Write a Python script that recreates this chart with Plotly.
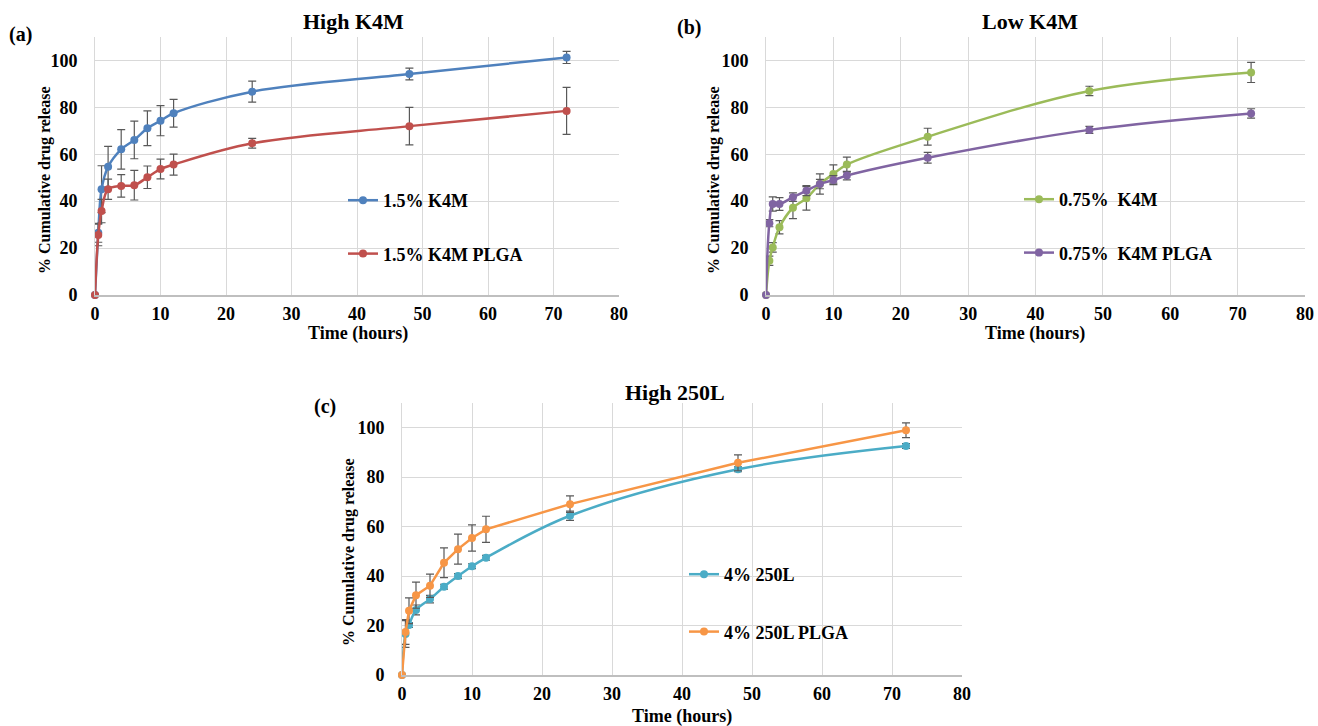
import plotly.graph_objects as go

time_h = [0, 0.5, 1, 2, 4, 6, 8, 10, 12, 24, 48, 72]

# Panel (a) High K4M
k4m_15 = [0, 26.5, 45.1, 54.7, 62.1, 66.1, 71.1, 74.3, 77.5, 86.7, 94.2, 101.3]
k4m_15_err = [0, 4, 10, 8.7, 8.4, 8, 7.4, 6.4, 5.9, 4.5, 2.5, 2.6]
k4m_15_plga = [0, 25.6, 35.8, 45.1, 46.5, 46.8, 50.2, 53.7, 55.6, 64.7, 72.0, 78.5]
k4m_15_plga_err = [0, 4.6, 5, 4.3, 4.8, 6.3, 4.8, 4.2, 4.5, 2.1, 8, 10]

# Panel (b) Low K4M
k4m_075 = [0, 14.6, 20.3, 28.9, 37.2, 41.2, 47.3, 51.6, 55.6, 67.5, 87.0, 94.9]
k4m_075_err = [0, 2, 2, 2.8, 4.6, 5, 4.3, 3.9, 3.2, 3.6, 2, 4.3]
k4m_075_plga = [0, 30.6, 38.8, 38.8, 41.7, 44.5, 47.3, 49.0, 50.9, 58.5, 70.4, 77.4]
k4m_075_plga_err = [0, 1.5, 3, 2.7, 1.8, 2.1, 2, 1.9, 1.8, 2.3, 1.5, 2]

# Panel (c) High 250L
l250_4 = [0, 16.6, 20.2, 26.3, 30.7, 35.7, 40.0, 44.0, 47.4, 64.4, 83.2, 92.6]
l250_4_err = [0, 5.4, 1, 2, 1.5, 1, 1, 1, 1, 1.9, 1, 1]
l250_4_plga = [0, 17.4, 26.0, 32.3, 36.1, 45.4, 50.9, 55.4, 58.9, 69.1, 85.8, 99.0]
l250_4_plga_err = [0, 5, 5.2, 5.3, 4.7, 6, 6.1, 5.3, 5.3, 3.3, 3.2, 3]

W, H = 1318, 726
FONT = "Liberation Serif"
ERR_COLOR = "#595959"
X_TITLE = "<b>Time (hours)</b>"
Y_TITLE = "<b>% Cumulative drug release</b>"


def fx(px):
    return px / W


def fy(py):
    return 1 - py / H


fig = go.Figure()


def add_series(y, err, name, color, xa, ya, legend, shape="spline"):
    fig.add_trace(go.Scatter(
        x=time_h, y=y, name=name, mode="lines+markers",
        line=dict(color=color, width=2.5, shape=shape, smoothing=1),
        marker=dict(color=color, size=8),
        error_y=dict(type="data", array=err, visible=True, color=ERR_COLOR,
                     thickness=1.2, width=4),
        cliponaxis=False,
        xaxis=xa, yaxis=ya, legend=legend, legendgroup=name,
    ))


add_series(k4m_15, k4m_15_err, "1.5% K4M", "#4F81BD", "x", "y", "legend")
add_series(k4m_15_plga, k4m_15_plga_err, "1.5% K4M PLGA", "#C0504D", "x", "y", "legend")
add_series(k4m_075, k4m_075_err, "0.75%  K4M", "#9BBB59", "x2", "y2", "legend2")
add_series(k4m_075_plga, k4m_075_plga_err, "0.75%  K4M PLGA", "#8064A2", "x2", "y2", "legend2")
add_series(l250_4, l250_4_err, "4% 250L", "#4BACC6", "x3", "y3", "legend3")
add_series(l250_4_plga, l250_4_plga_err, "4% 250L PLGA", "#F79646", "x3", "y3", "legend3", shape="linear")

tickfont = dict(family=FONT, size=18, color="#000000", weight="bold")


def xaxis(domain, anchor):
    return dict(domain=domain, anchor=anchor, range=[0, 80], dtick=10, tick0=0,
                showgrid=True, gridcolor="#D9D9D9", gridwidth=1,
                showline=True, linecolor="#BFBFBF", linewidth=1.5,
                zeroline=False, ticks="", tickfont=tickfont,
                ticklabelstandoff=2, automargin=False)


def yaxis(domain, anchor):
    return dict(domain=domain, anchor=anchor, range=[0, 110], dtick=20, tick0=0,
                showgrid=True, gridcolor="#D9D9D9", gridwidth=1,
                showline=True, linecolor="#D9D9D9", linewidth=1,
                zeroline=False, ticks="", tickfont=tickfont,
                ticklabelstandoff=13, automargin=False)


ya_dom = [fy(295), fy(37)]
yc_dom = [fy(675), fy(403)]


def legend(x, y, gap):
    return dict(x=x, y=y, xanchor="left", yanchor="top", bgcolor="rgba(0,0,0,0)",
                font=dict(family=FONT, size=18, color="#000000", weight="bold"),
                traceorder="grouped", tracegroupgap=gap, itemwidth=30)


def label(text, x, y, size, angle=0):
    return dict(text=text, x=fx(x), y=fy(y), xref="paper", yref="paper",
                xanchor="center", yanchor="middle", showarrow=False, textangle=angle,
                font=dict(family=FONT, size=size, color="#000000"))


fig.update_layout(
    width=W, height=H,
    margin=dict(l=0, r=0, t=0, b=0, autoexpand=False),
    paper_bgcolor="white", plot_bgcolor="white",
    showlegend=True,
    xaxis=xaxis([fx(95), fx(619)], "y"),
    yaxis=yaxis(ya_dom, "x"),
    xaxis2=xaxis([fx(766), fx(1305)], "y2"),
    yaxis2=yaxis(ya_dom, "x2"),
    xaxis3=xaxis([fx(402), fx(962)], "y3"),
    yaxis3=yaxis(yc_dom, "x3"),
    legend=legend(fx(343), fy(182), 27),
    legend2=legend(fx(1019), fy(181), 27),
    legend3=legend(fx(684), fy(556), 31),
    annotations=[
        label("<b>High K4M</b>", 353, 22, 22),
        label("<b>Low K4M</b>", 1030, 22, 22),
        label("<b>High 250L</b>", 675, 392, 22),
        label("<b>(a)</b>", 20, 35, 20),
        label("<b>(b)</b>", 689, 28, 20),
        label("<b>(c)</b>", 325, 407, 20),
        label(X_TITLE, 358, 333, 18),
        label(X_TITLE, 1035, 333, 18),
        label(X_TITLE, 682, 716, 18),
        label(Y_TITLE, 45, 180, 16, -90),
        label(Y_TITLE, 714, 180, 16, -90),
        label(Y_TITLE, 349, 552, 16, -90),
    ],
)

fig.write_html("out.html")
